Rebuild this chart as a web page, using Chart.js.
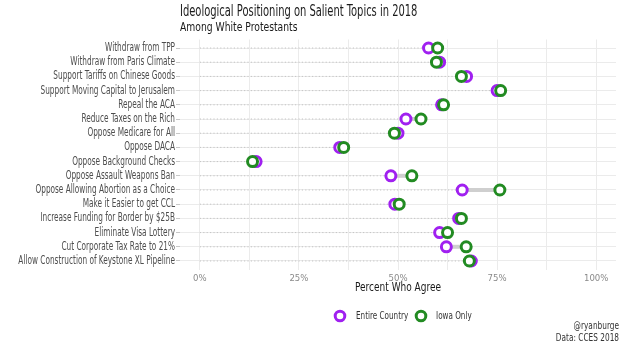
<!DOCTYPE html>
<html>
<head>
<meta charset="utf-8">
<script src="https://cdn.jsdelivr.net/npm/chart.js@4.4.1/dist/chart.umd.min.js"></script>
<style>
html,body{margin:0;padding:0;background:#fff;}
#wrap{width:624px;height:357px;position:relative;}
</style>
</head>
<body>
<div id="wrap"><canvas id="c" width="624" height="357"></canvas></div>
<script>
const categories = [
  "Withdraw from TPP",
  "Withdraw from Paris Climate",
  "Support Tariffs on Chinese Goods",
  "Support Moving Capital to Jerusalem",
  "Repeal the ACA",
  "Reduce Taxes on the Rich",
  "Oppose Medicare for All",
  "Oppose DACA",
  "Oppose Background Checks",
  "Oppose Assault Weapons Ban",
  "Oppose Allowing Abortion as a Choice",
  "Make it Easier to get CCL",
  "Increase Funding for Border by $25B",
  "Eliminate Visa Lottery",
  "Cut Corporate Tax Rate to 21%",
  "Allow Construction of Keystone XL Pipeline"
];
const entireCountry = [57.7, 60.5, 67.3, 75.0, 61.0, 52.0, 50.0, 35.3, 14.2, 48.2, 66.2, 49.2, 65.3, 60.5, 62.2, 68.5];
const iowaOnly      = [60.0, 59.7, 66.0, 75.9, 61.5, 55.8, 49.1, 36.3, 13.3, 53.5, 75.7, 50.3, 66.0, 62.5, 67.2, 68.0];
const xTicks = [0, 12.5, 25, 37.5, 50, 62.5, 75, 87.5, 100];
const xLabeled = [0, 25, 50, 75, 100];
const seriesNames = ['Entire Country', 'Iowa Only'];

const FONT = "'Liberation Sans Narrow', 'DejaVu Sans Condensed', 'Roboto', sans-serif";
const PURPLE = '#A020F0';
const GREEN = '#228B22';

function narrowText(ctx, text, x, y, size, sx, align, color) {
  ctx.save();
  ctx.translate(x, y);
  ctx.scale(sx, 1);
  ctx.font = size + "px " + FONT;
  ctx.textAlign = align;
  ctx.textBaseline = 'middle';
  ctx.fillStyle = color;
  ctx.fillText(text, 0, 0);
  ctx.restore();
}

const segPlugin = {
  id: 'segments',
  beforeDatasetsDraw(chart) {
    const ctx = chart.ctx;
    const xs = chart.scales.x, ys = chart.scales.y;
    ctx.save();
    categories.forEach((c, i) => {
      const a = entireCountry[i], b = iowaOnly[i];
      const lo = Math.min(a, b), hi = Math.max(a, b);
      const y = ys.getPixelForValue(i);
      ctx.setLineDash([1.2, 2.2]);
      ctx.strokeStyle = '#c4c4c4';
      ctx.lineWidth = 1;
      ctx.beginPath();
      ctx.moveTo(xs.getPixelForValue(0), y);
      ctx.lineTo(xs.getPixelForValue(lo), y);
      ctx.stroke();
      ctx.setLineDash([]);
      ctx.strokeStyle = '#cfcfcf';
      ctx.lineWidth = 4;
      ctx.beginPath();
      ctx.moveTo(xs.getPixelForValue(lo), y);
      ctx.lineTo(xs.getPixelForValue(hi), y);
      ctx.stroke();
    });
    ctx.restore();
  }
};

const textPlugin = {
  id: 'texts',
  afterDraw(chart) {
    const ctx = chart.ctx;
    const area = chart.chartArea;
    const ys = chart.scales.y;
    categories.forEach((c, i) => {
      narrowText(ctx, c, area.left - 5, ys.getPixelForValue(i), 11.5, 0.71, 'right', '#4d4d4d');
    });
    narrowText(ctx, "Ideological Positioning on Salient Topics in 2018", area.left, 12, 16, 0.69, 'left', '#1a1a1a');
    narrowText(ctx, "Among White Protestants", area.left, 28, 12.5, 0.82, 'left', '#1a1a1a');
    narrowText(ctx, "Percent Who Agree", (area.left + area.right) / 2, 288, 13, 0.77, 'center', '#1a1a1a');
    narrowText(ctx, "@ryanburge", 619, 326, 10.5, 0.78, 'right', '#333');
    narrowText(ctx, "Data: CCES 2018", 619, 338, 10.5, 0.78, 'right', '#333');
    const ds = chart.data.datasets;
    const legendPos = [{cx: 340, tx: 356}, {cx: 421, tx: 436}];
    ds.forEach((d, k) => {
      const p = legendPos[k];
      ctx.save();
      ctx.beginPath();
      ctx.arc(p.cx, 316, 4.8, 0, Math.PI * 2);
      ctx.fillStyle = '#fff';
      ctx.fill();
      ctx.lineWidth = 3;
      ctx.strokeStyle = d.borderColor;
      ctx.stroke();
      ctx.restore();
      narrowText(ctx, d.label, p.tx, 316, 11, 0.73, 'left', '#333');
    });
  }
};

new Chart(document.getElementById('c'), {
  type: 'scatter',
  data: {
    datasets: [
      {
        label: seriesNames[0],
        data: entireCountry.map((v, i) => ({x: v, y: i})),
        borderColor: PURPLE,
        backgroundColor: '#ffffff',
        pointRadius: 5,
        pointHoverRadius: 5,
        pointBorderWidth: 3,
        borderWidth: 3,
        order: 1
      },
      {
        label: seriesNames[1],
        data: iowaOnly.map((v, i) => ({x: v, y: i})),
        borderColor: GREEN,
        backgroundColor: '#ffffff',
        pointRadius: 5,
        pointHoverRadius: 5,
        pointBorderWidth: 3,
        borderWidth: 3,
        order: 0
      }
    ]
  },
  options: {
    responsive: false,
    animation: false,
    devicePixelRatio: 1,
    layout: {padding: {top: 39.5, right: 0, left: 0, bottom: 56}},
    plugins: {
      tooltip: {enabled: false},
      title: {display: false},
      legend: {display: false}
    },
    scales: {
      x: {
        type: 'linear',
        min: -5,
        max: 105,
        afterBuildTicks: s => { s.ticks = xTicks.map(v => ({value: v})); },
        afterFit: s => { s.height = 31.5; s.paddingLeft = 0; s.paddingRight = 0; },
        grid: {color: '#ebebeb', lineWidth: 1, drawTicks: false},
        border: {display: false},
        ticks: {
          padding: 3,
          color: '#8a8a8a',
          font: {family: FONT, size: 9.5},
          autoSkip: false,
          maxRotation: 0,
          callback: v => xLabeled.includes(v) ? v + '%' : ''
        }
      },
      y: {
        type: 'linear',
        reverse: true,
        min: -0.6,
        max: categories.length - 1 + 0.6,
        afterBuildTicks: s => { s.ticks = categories.map((c, i) => ({value: i})); },
        afterFit: s => { s.width = 180; s.paddingTop = 0; s.paddingBottom = 0; },
        grid: {color: '#ebebeb', lineWidth: 1, drawTicks: true, tickLength: 4, tickColor: '#c8c8c8'},
        border: {display: false},
        ticks: {display: false}
      }
    }
  },
  plugins: [segPlugin, textPlugin]
});
</script>
</body>
</html>
